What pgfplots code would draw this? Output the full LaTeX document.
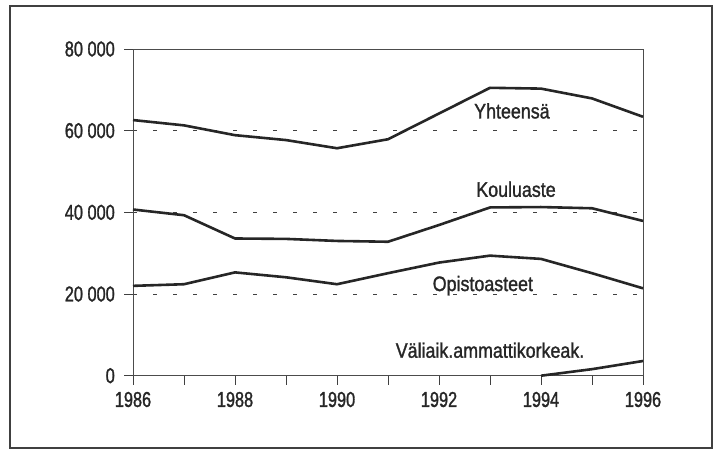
\documentclass[border=0pt]{standalone}
\usepackage{pgfplots}
\pgfplotsset{compat=1.18}
\usepackage{fontspec}
\setmainfont{Liberation Sans}[FakeStretch=0.85, FakeBold=1.3]
\newfontfamily\numfont{Liberation Sans}[FakeStretch=0.76, FakeBold=1.3]
\begin{document}
\begin{tikzpicture}
\useasboundingbox (0pt,0pt) rectangle (718pt,451pt);
\draw[line width=1.6pt, black!75] (10pt,3pt) rectangle (712pt,445pt);
\begin{axis}[
  at={(133pt,75.3pt)}, anchor=south west,
  scale only axis, width=510pt, height=326.7pt,
  xmin=1986, xmax=1996, ymin=0, ymax=80000,
  scaled y ticks=false, scaled x ticks=false,
  xtick={1986,1988,1990,1992,1994,1996},
  xticklabels={1986,1988,1990,1992,1994,1996},
  minor xtick={1987,1989,1991,1993,1995},
  ytick={0,20000,40000,60000,80000},
  yticklabels={0,20~000,40~000,60~000,80~000},
  xtick pos=bottom, ytick pos=left,
  tick align=outside,
  major tick length=9pt, minor tick length=9pt,
  every tick/.style={black!75, line width=0.7pt},
  axis line style={black!70, line width=0.7pt},
  ymajorgrids,
  major grid style={black!75, line width=0.7pt, dash pattern=on 4pt off 16pt, dash phase=0pt},
  tick label style={font=\numfont\fontsize{21.5}{24}\selectfont, black!85, inner sep=0pt},
  yticklabel style={xshift=-9pt},
  xticklabel style={yshift=-7pt},
  /pgf/number format/assume math mode=true,
  clip=false,
]
\addplot[black!85, line width=2.6pt, line join=round] coordinates {
(1986,62600) (1987,61300) (1988,58900) (1989,57700) (1990,55700) (1991,57900)
(1992,64200) (1993,70500) (1994,70300) (1995,67900) (1996,63400)};
\addplot[black!85, line width=2.6pt, line join=round] coordinates {
(1986,40700) (1987,39300) (1988,33600) (1989,33500) (1990,33000) (1991,32800)
(1992,36900) (1993,41200) (1994,41300) (1995,41000) (1996,37900)};
\addplot[black!85, line width=2.6pt, line join=round] coordinates {
(1986,22000) (1987,22400) (1988,25300) (1989,24100) (1990,22400) (1991,25100)
(1992,27700) (1993,29400) (1994,28600) (1995,25100) (1996,21400)};
\addplot[black!85, line width=2.6pt, line join=round] coordinates {
(1994,0) (1995,1600) (1996,3600)};
\begin{scope}[every node/.style={font=\fontsize{21}{24}\selectfont, black!85, anchor=base, inner sep=0pt}]
\node at (axis cs:1993.43,63000) {Yhteensä};
\node at (axis cs:1993.51,43800) {Kouluaste};
\node at (axis cs:1992.86,20730) {Opistoasteet};
\node at (axis cs:1993.0,4400) {Väliaik.ammattikorkeak.};
\end{scope}
\end{axis}
\end{tikzpicture}
\end{document}
